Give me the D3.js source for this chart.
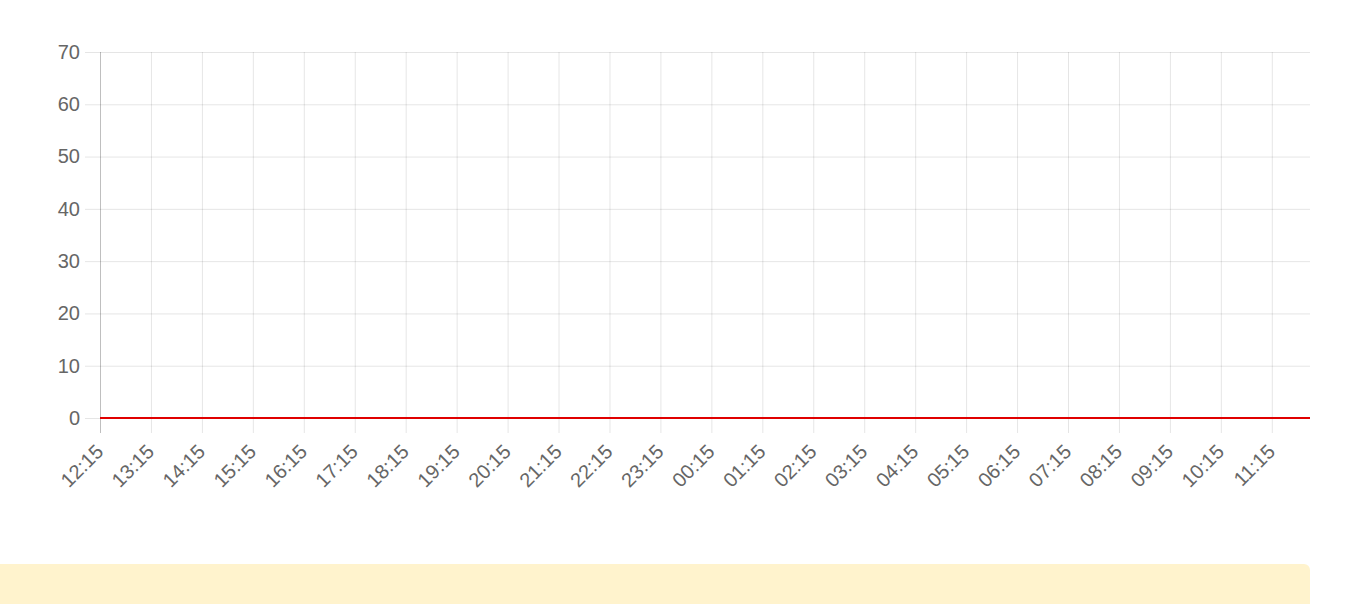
<!DOCTYPE html>
<html>
<head>
<meta charset="utf-8">
<script src="https://cdn.jsdelivr.net/npm/d3@7"></script>
<style>
  html, body { margin: 0; padding: 0; background: #fff; overflow: hidden; }
  .chart { width: 1360px; height: 604px; position: relative; }
  .notice {
    position: absolute; left: -10px; top: 564px; width: 1320px; height: 60px;
    background: #fff3cd; border-radius: 6px;
  }
  .chart text { font-family: "Liberation Sans", Arial, sans-serif; }
</style>
</head>
<body>
<div class="chart"></div>
<div class="notice"></div>
<script>
// readings, every one zero over the whole day
const times = [
  '2024-01-01 12:15', '2024-01-01 13:15', '2024-01-01 14:15', '2024-01-01 15:15',
  '2024-01-01 16:15', '2024-01-01 17:15', '2024-01-01 18:15', '2024-01-01 19:15',
  '2024-01-01 20:15', '2024-01-01 21:15', '2024-01-01 22:15', '2024-01-01 23:15',
  '2024-01-02 00:15', '2024-01-02 01:15', '2024-01-02 02:15', '2024-01-02 03:15',
  '2024-01-02 04:15', '2024-01-02 05:15', '2024-01-02 06:15', '2024-01-02 07:15',
  '2024-01-02 08:15', '2024-01-02 09:15', '2024-01-02 10:15', '2024-01-02 11:15',
  '2024-01-02 12:00'
];
const values = [0, 0, 0, 0, 0, 0, 0, 0, 0, 0, 0, 0, 0, 0, 0, 0, 0, 0, 0, 0, 0, 0, 0, 0, 0];

const tickLabels = ['12:15', '13:15', '14:15', '15:15', '16:15', '17:15', '18:15', '19:15',
  '20:15', '21:15', '22:15', '23:15', '00:15', '01:15', '02:15', '03:15',
  '04:15', '05:15', '06:15', '07:15', '08:15', '09:15', '10:15', '11:15'];
const yTicks = [0, 10, 20, 30, 40, 50, 60, 70];

const margin = { top: 52, right: 50, bottom: 186, left: 100 },
    width = 1360,
    height = 604;

const parseTime = d3.timeParse('%Y-%m-%d %H:%M');
const data = times.map((t, i) => ({ time: parseTime(t), value: values[i] }));
// first twelve labels fall on the first day, the rest on the next
const tickTimes = tickLabels.map((l, i) => parseTime((i < 12 ? '2024-01-01 ' : '2024-01-02 ') + l));

const svg = d3.select(document.querySelector('.chart'))
    .append('svg')
    .attr('width', width)
    .attr('height', height);

const x = d3.scaleTime()
    .domain(d3.extent(data, d => d.time))
    .range([margin.left, width - margin.right]);
const y = d3.scaleLinear()
    .domain([0, 70])
    .range([height - margin.bottom, margin.top]);

// y axis with grid
const yaxis = svg.append('g')
    .attr('class', 'yaxis')
    .attr('transform', `translate(${margin.left}, 0)`)
    .call(d3.axisLeft(y).tickValues(yTicks).tickSize(15).tickPadding(5));
yaxis.select('.domain').remove();
yaxis.selectAll('.tick line')
    .attr('x2', width - margin.right - margin.left)
    .attr('x1', -15)
    .style('stroke', 'rgba(0,0,0,0.1)');
yaxis.selectAll('.tick text')
    .style('font-size', '20px')
    .style('fill', '#666');

// x axis with grid
const xaxis = svg.append('g')
    .attr('class', 'xaxis')
    .attr('transform', `translate(0, ${height - margin.bottom})`)
    .call(d3.axisBottom(x).tickValues(tickTimes).tickFormat(d3.timeFormat('%H:%M')).tickSize(15));
xaxis.select('.domain').remove();
xaxis.selectAll('.tick line')
    .attr('y1', -(height - margin.bottom - margin.top))
    .attr('y2', 15)
    .style('stroke', (d, i) => i === 0 ? 'rgba(0,0,0,0.25)' : 'rgba(0,0,0,0.1)');
xaxis.selectAll('.tick text')
    .style('font-size', '20px')
    .style('fill', '#666')
    .attr('text-anchor', 'end')
    .attr('y', 0)
    .attr('dy', 0)
    .attr('transform', 'translate(4, 35) rotate(-45)');

// the line
const line = d3.line()
    .x(d => x(d.time))
    .y(d => y(d.value));
svg.append('path')
    .datum(data)
    .attr('class', 'line')
    .attr('d', line)
    .style('stroke', '#e00000')
    .style('stroke-width', 2)
    .style('fill', 'none');
</script>
</body>
</html>
